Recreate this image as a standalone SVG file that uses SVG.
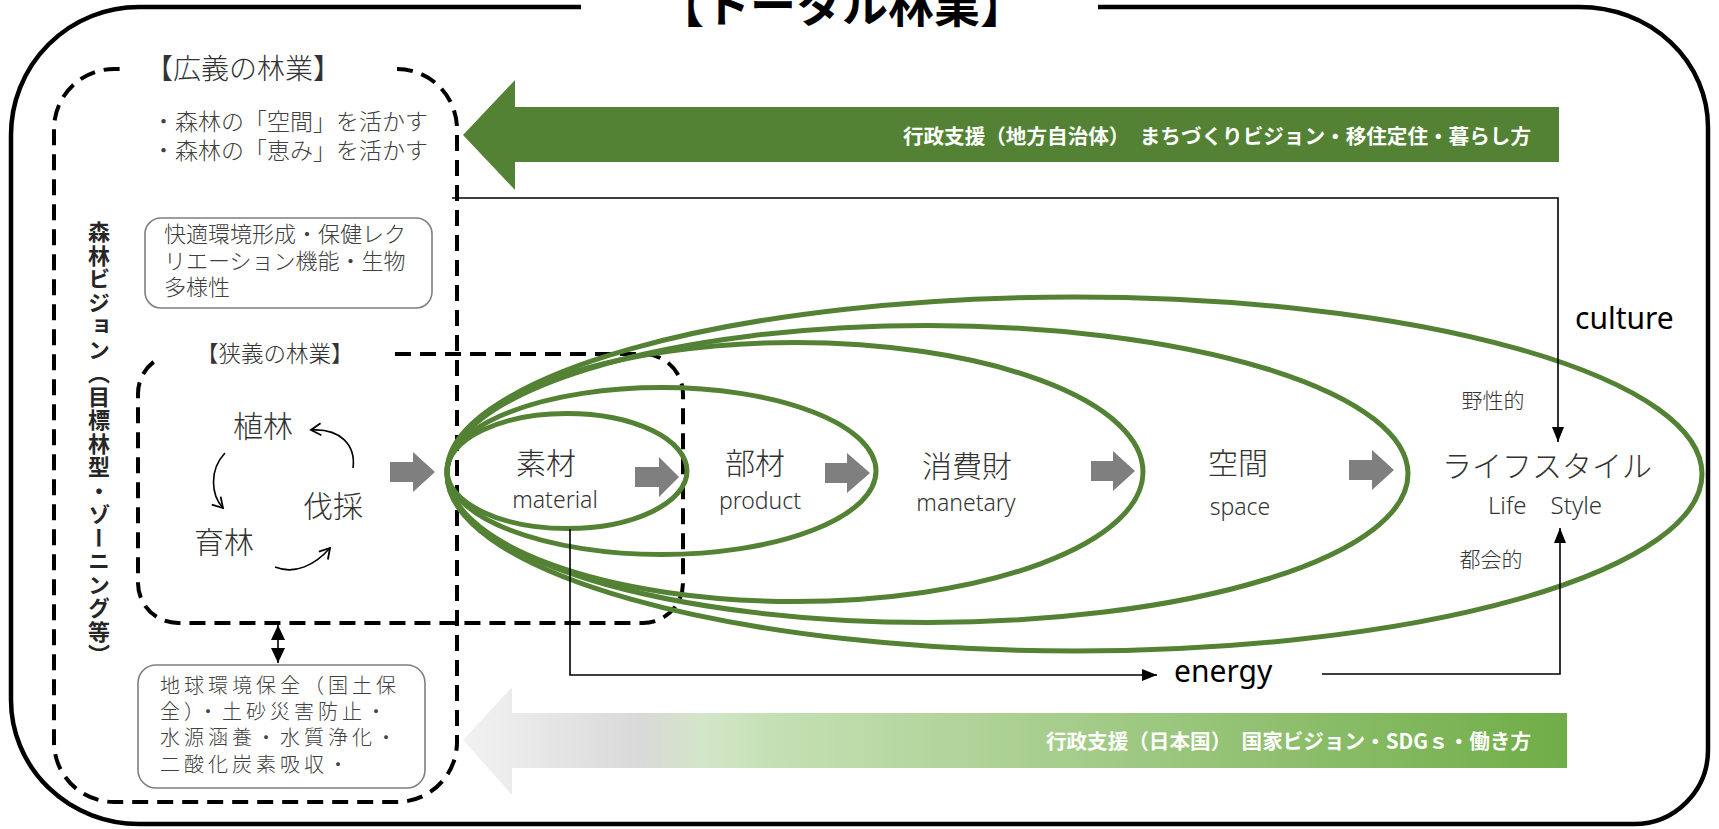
<svg xmlns="http://www.w3.org/2000/svg" width="1719" height="829" viewBox="0 0 1719 829">
<style>
.jp{font-family:"Noto Sans CJK JP","Noto Sans",sans-serif;}
.lat{font-family:"Noto Sans","Noto Sans CJK JP",sans-serif;}
.lbl{fill:#333;font-weight:300;dominant-baseline:central;}
.dash{fill:none;stroke:#000;stroke-width:4;stroke-dasharray:16 9;}
.ell{fill:none;stroke:#548235;stroke-width:5;}
.gbox{fill:#fff;stroke:#7f7f7f;stroke-width:1.6;}
.garr{fill:#7f7f7f;}
.conn{fill:none;stroke:#000;stroke-width:1.6;}
</style>
<defs>
<marker id="ah" markerUnits="userSpaceOnUse" markerWidth="16" markerHeight="12" refX="15" refY="6" orient="auto">
<path d="M0,0 L15,6 L0,12 z" fill="#000"/>
</marker>
<marker id="ahs" markerUnits="userSpaceOnUse" markerWidth="16" markerHeight="14" refX="15" refY="7" orient="auto-start-reverse">
<path d="M0,0 L15,7 L0,14 z" fill="#000"/>
</marker>
<marker id="av" markerUnits="userSpaceOnUse" markerWidth="14" markerHeight="14" refX="11" refY="7" orient="auto">
<path d="M1,1 L11,7 L1,13" fill="none" stroke="#000" stroke-width="1.8"/>
</marker>
<linearGradient id="gg" gradientUnits="userSpaceOnUse" x1="463" y1="0" x2="1567" y2="0">
<stop offset="0" stop-color="#f2f2f2"/>
<stop offset="0.16" stop-color="#d9d9d9"/>
<stop offset="0.22" stop-color="#d3e6c7"/>
<stop offset="0.28" stop-color="#c5e0b4"/>
<stop offset="1" stop-color="#70ad47"/>
</linearGradient>
</defs>
<rect width="1719" height="829" fill="#fff"/>

<g id="frame">
<path d="M1098,7 H1580 A128,120 0 0 1 1708,127 V750 A74,74 0 0 1 1634,824 H139 A128,124 0 0 1 11,700 V135 A128,128 0 0 1 139,7 H581" fill="none" stroke="#000" stroke-width="4.5"/>
<text class="jp" x="842" y="22" font-size="46" font-weight="700" text-anchor="middle" fill="#000">【トータル林業】</text>
</g>

<g id="broad">
<path class="dash" d="M397,69 A60,60 0 0 1 457,129 V742 A60,60 0 0 1 397,802 H114 A60,60 0 0 1 54,742 V129 A60,60 0 0 1 114,69 H122"/>
<text class="jp" x="145" y="67" font-size="28" fill="#333" dominant-baseline="central" font-weight="300">【広義の林業】</text>
<text class="jp" x="152" y="120" font-size="23" fill="#404040" dominant-baseline="central" font-weight="300">・森林の「空間」を活かす</text>
<text class="jp" x="152" y="149" font-size="23" fill="#404040" dominant-baseline="central" font-weight="300">・森林の「恵み」を活かす</text>
</g>

<g id="vision">
<text class="jp" x="99" y="221" font-size="22" font-weight="700" fill="#262626" writing-mode="vertical-rl" letter-spacing="1.5">森林ビジョン（目標林型・ゾーニング等）</text>
</g>

<g id="amenity">
<rect class="gbox" x="145" y="218" width="287" height="90" rx="16"/>
<g class="jp" font-size="22" fill="#404040" font-weight="300" dominant-baseline="central">
<text x="164" y="232">快適環境形成・保健レク</text>
<text x="164" y="259">リエーション機能・生物</text>
<text x="164" y="285">多様性</text>
</g>
</g>

<g id="global">
<rect class="gbox" x="138" y="665" width="287" height="123" rx="18"/>
<g class="jp" font-size="20" fill="#404040" font-weight="300" dominant-baseline="central" letter-spacing="4">
<text x="160" y="684">地球環境保全（国土保</text>
<text x="160" y="710">全）・土砂災害防止・</text>
<text x="160" y="736">水源涵養・水質浄化・</text>
<text x="160" y="763">二酸化炭素吸収・</text>
</g>
</g>

<g id="narrow">
<path class="dash" d="M395,354 H643 A40,40 0 0 1 683,394 V583 A40,40 0 0 1 643,623 H178 A40,40 0 0 1 138,583 V394 A40,40 0 0 1 160,358"/>
<text class="jp" x="196" y="352" font-size="22.5" fill="#333" dominant-baseline="central" font-weight="300">【狭義の林業】</text>
<text class="jp lbl" x="233" y="424" font-size="30">植林</text>
<text class="jp lbl" x="303" y="504" font-size="30">伐採</text>
<text class="jp lbl" x="194" y="540" font-size="30">育林</text>
</g>

<g id="ellipses">
<ellipse class="ell" cx="567" cy="471" rx="120" ry="57.5"/>
<ellipse class="ell" cx="661.5" cy="471" rx="214.5" ry="83.5"/>
<ellipse class="ell" cx="795" cy="472" rx="348" ry="129.5"/>
<ellipse class="ell" cx="927.5" cy="474" rx="480.5" ry="148.5"/>
<ellipse class="ell" cx="1074.5" cy="474" rx="627.5" ry="177"/>
</g>

<g id="n-material">
<text class="jp lbl" x="546" y="461" font-size="30" text-anchor="middle">素材</text>
<text class="lat lbl" x="555" y="499" font-size="23" text-anchor="middle">material</text>
</g>
<g id="n-product">
<text class="jp lbl" x="755" y="461" font-size="30" text-anchor="middle">部材</text>
<text class="lat lbl" x="760" y="500" font-size="23" text-anchor="middle">product</text>
</g>
<g id="n-consumer">
<text class="jp lbl" x="967" y="464" font-size="30" text-anchor="middle">消費財</text>
<text class="lat lbl" x="966" y="502" font-size="23" text-anchor="middle">manetary</text>
</g>
<g id="n-space">
<text class="jp lbl" x="1238" y="461" font-size="30" text-anchor="middle">空間</text>
<text class="lat lbl" x="1240" y="506" font-size="23" text-anchor="middle">space</text>
</g>
<g id="n-lifestyle">
<text class="jp lbl" x="1547" y="464" font-size="30" text-anchor="middle">ライフスタイル</text>
<text class="lat lbl" x="1545" y="504" font-size="24" text-anchor="middle" xml:space="preserve">Life　Style</text>
<text class="jp lbl" x="1493" y="399" font-size="21" text-anchor="middle">野性的</text>
<text class="jp lbl" x="1491" y="558" font-size="21" text-anchor="middle">都会的</text>
</g>

<g id="policy-arrows">
<polygon points="463,135 515,80 515,107 1559,107 1559,162 515,162 515,190" fill="#548235"/>
<text class="jp" x="1531" y="135" font-size="20.6" font-weight="700" fill="#fff" text-anchor="end" dominant-baseline="central">行政支援（地方自治体）　まちづくりビジョン・移住定住・暮らし方</text>
<polygon points="463,740 512,687 512,713 1567,713 1567,768 512,768 512,795" fill="url(#gg)"/>
<text class="jp" x="1531" y="740" font-size="20.6" font-weight="700" fill="#fff" text-anchor="end" dominant-baseline="central">行政支援（日本国）　国家ビジョン・SDGｓ・働き方</text>
</g>

<g id="connectors">
<polygon class="garr" points="390,462 413,462 413,452 435,472 413,492 413,482 390,482"/>
<polygon class="garr" points="635,467 659,467 659,457 679,477 659,497 659,487 635,487"/>
<polygon class="garr" points="825,463 847,463 847,453 870,473 847,493 847,483 825,483"/>
<polygon class="garr" points="1091,461 1113,461 1113,451 1135,471 1113,491 1113,481 1091,481"/>
<polygon class="garr" points="1349,460 1372,460 1372,450 1394,470 1372,490 1372,480 1349,480"/>
<path class="conn" d="M452,198 H1558 V442" marker-end="url(#ah)"/>
<path class="conn" d="M570,529 V675 H1157" marker-end="url(#ah)"/>
<path class="conn" d="M1322,674 H1560 V528" marker-end="url(#ah)"/>
<path class="conn" d="M278,625 V663" marker-start="url(#ahs)" marker-end="url(#ahs)"/>
<path class="conn" d="M353,468 C356,445 340,428 311,430" stroke-width="1.8" marker-end="url(#av)"/>
<path class="conn" d="M225,453 C209,470 211,495 223,508" stroke-width="1.8" marker-end="url(#av)"/>
<path class="conn" d="M275,567 C295,575 315,565 330,548" stroke-width="1.8" marker-end="url(#av)"/>
<text class="lat" x="1575" y="317" font-size="30" fill="#000" dominant-baseline="central">culture</text>
<text class="lat" x="1174" y="670" font-size="30" fill="#000" dominant-baseline="central">energy</text>
</g>
</svg>
